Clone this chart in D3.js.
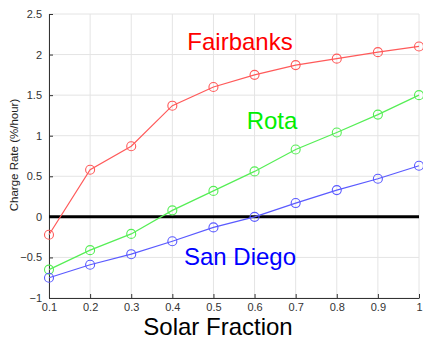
<!DOCTYPE html>
<html><head><meta charset="utf-8">
<script src="https://cdn.jsdelivr.net/npm/d3@7"></script>
<style>body{margin:0;background:#fff}svg{display:block}</style>
</head><body><svg id="c" width="423" height="339"></svg>
<script>
const solarFraction = [0.1,0.2,0.3,0.4,0.5,0.6,0.7,0.8,0.9,1.0];
const fairbanks = [-0.22,0.58,0.87,1.37,1.60,1.75,1.87,1.95,2.03,2.10];
const rota = [-0.65,-0.41,-0.21,0.08,0.32,0.56,0.83,1.04,1.26,1.50];
const sanDiego = [-0.75,-0.59,-0.46,-0.30,-0.13,0.00,0.17,0.33,0.47,0.63];
const xTicks = [0.1,0.2,0.3,0.4,0.5,0.6,0.7,0.8,0.9,1];
const yTicks = [-1,-0.5,0,0.5,1,1.5,2,2.5];
const seriesNames = ["Fairbanks","Rota","San Diego"];
const lineColors = ["#ff5a5a","#55ee55","#5a5aff"];
const textColors = ["#ff0000","#00ee00","#0000ff"];

const svg = d3.select("#c");
const L=49, R=419, T=14, B=298;
const x = d3.scaleLinear().domain([0.1,1]).range([L,R]);
const y = d3.scaleLinear().domain([-1,2.5]).range([B,T]);
const font = "Helvetica, 'Liberation Sans', Arial, sans-serif";

// grid
const g = svg.append("g");
g.selectAll("line.gx").data(xTicks).join("line")
  .attr("x1",d=>x(d)).attr("x2",d=>x(d)).attr("y1",T).attr("y2",B)
  .attr("stroke","#e4e4e4").attr("stroke-width",1);
g.selectAll("line.gy").data(yTicks).join("line")
  .attr("x1",L).attr("x2",R).attr("y1",d=>y(d)).attr("y2",d=>y(d))
  .attr("stroke","#e4e4e4").attr("stroke-width",1);

// axes
const xAxis = d3.axisBottom(x).tickValues(xTicks).tickSizeInner(-4).tickSizeOuter(0).tickPadding(5)
  .tickFormat(d=>d===1?"1":d3.format(".1f")(d));
const ax = svg.append("g").attr("transform",`translate(0,${B})`).call(xAxis);
const yAxis = d3.axisLeft(y).tickValues(yTicks).tickSizeInner(-4).tickSizeOuter(0).tickPadding(7)
  .tickFormat(d=>d3.format("")(d));
const ay = svg.append("g").attr("transform",`translate(${L},0)`).call(yAxis);
[ax,ay].forEach(a=>{
  a.select(".domain").attr("stroke","#333").attr("stroke-width",1);
  a.selectAll(".tick line").attr("stroke","#333");
  a.selectAll(".tick text").attr("fill","#333").attr("font-size",11).attr("font-family",font);
});

// zero line
svg.append("line").attr("x1",L).attr("x2",R).attr("y1",y(0)).attr("y2",y(0))
  .attr("stroke","#000").attr("stroke-width",3);

// series
const data = [fairbanks, rota, sanDiego];
const line = d3.line().x((d,i)=>x(solarFraction[i])).y(d=>y(d));
data.forEach((vals,k)=>{
  svg.append("path").datum(vals).attr("d",line).attr("fill","none")
    .attr("stroke",lineColors[k]).attr("stroke-width",1.2);
  svg.append("g").selectAll("circle").data(vals).join("circle")
    .attr("cx",(d,i)=>x(solarFraction[i])).attr("cy",d=>y(d)).attr("r",4.5)
    .attr("fill","none").attr("stroke",lineColors[k]).attr("stroke-width",1.1);
});

// annotations
const labelPos = [[240,50],[272,129],[240,265]];
seriesNames.forEach((n,k)=>{
  svg.append("text").attr("x",labelPos[k][0]).attr("y",labelPos[k][1])
    .attr("text-anchor","middle").attr("fill",textColors[k])
    .attr("font-size",24).attr("font-family",font).text(n);
});

// axis titles
svg.append("text").attr("x",218).attr("y",335).attr("text-anchor","middle")
  .attr("font-size",24).attr("font-family",font).attr("fill","#000").text("Solar Fraction");
svg.append("text").attr("transform","translate(18,155) rotate(-90)").attr("text-anchor","middle")
  .attr("font-size",11.5).attr("font-family",font).attr("fill","#222").text("Charge Rate (%/hour)");
</script></body></html>
